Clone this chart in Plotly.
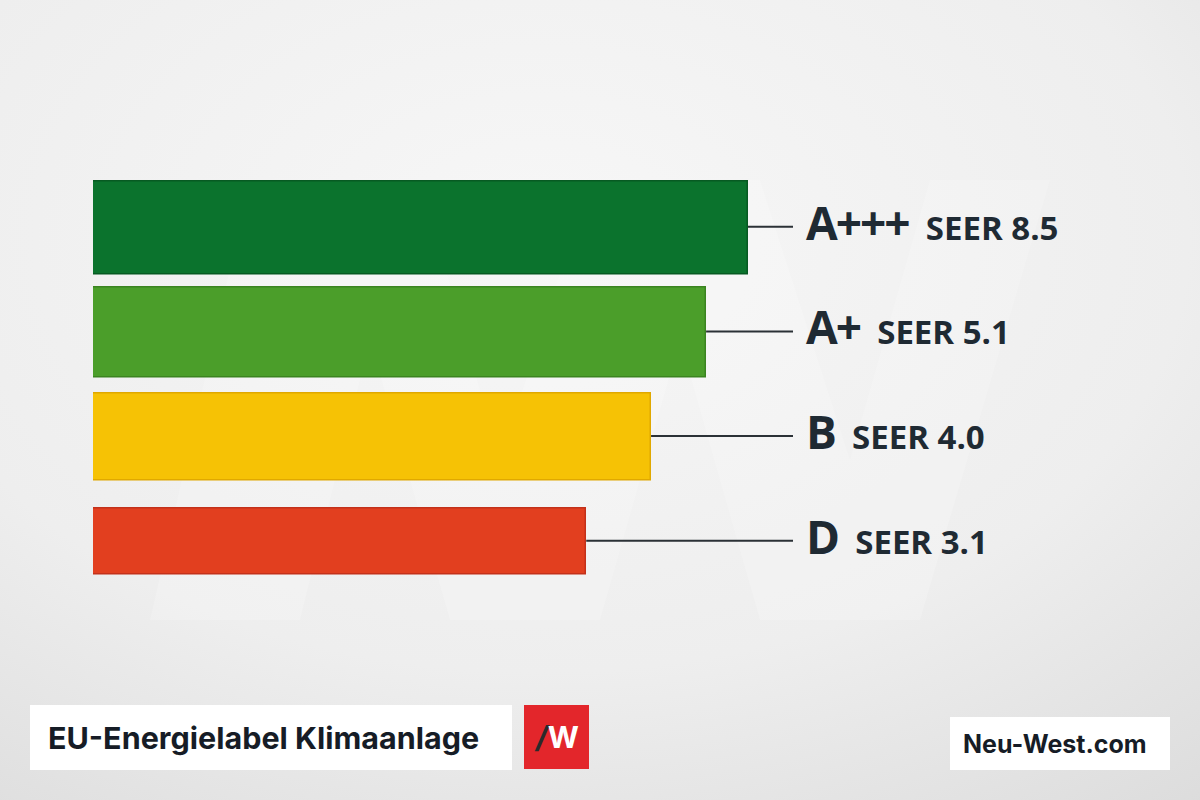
import plotly.graph_objects as go
import base64

# ---- data ----
classes = ["A+++", "A+", "B", "D"]
seer = ["8.5", "5.1", "4.0", "3.1"]
bar_length = [100, 93.6, 85.2, 75.3]      # relative bar length (%)
bar_colors = ["#0b732d", "#4b9e2a", "#f6c205", "#e23f1f"]
edge_colors = ["#075a22", "#3b8420", "#e0a800", "#c3311a"]
bar_thickness = [0.886, 0.857, 0.838, 0.63]
title_text = "EU-Energielabel Klimaanlage"
site_text = "Neu-West.com"

W, H = 1200, 800
x0_px = 93
unit_px = 6.55
line_end_px = 793
label_px = 804

def px_to_x(px):
    return (px - x0_px) / unit_px

xmax = px_to_x(W)
ypos = list(range(len(classes)))

fig = go.Figure()

# connector lines
for i, v in enumerate(bar_length):
    fig.add_trace(go.Scatter(
        x=[v, px_to_x(line_end_px)], y=[ypos[i] - 0.01, ypos[i] - 0.01],
        mode="lines", line=dict(color="#2b3136", width=2),
        hoverinfo="skip", showlegend=False))

fig.add_trace(go.Bar(
    x=bar_length, y=ypos, orientation="h", width=bar_thickness,
    marker=dict(color=bar_colors, line=dict(color=edge_colors, width=1.5)),
    showlegend=False, hoverinfo="skip"))

for i, (c, s) in enumerate(zip(classes, seer)):
    fig.add_annotation(
        x=px_to_x(label_px), y=ypos[i], xref="x", yref="y",
        xanchor="left", yanchor="middle", showarrow=False, yshift=6,
        text=(f"<b><span style='font-size:46px;letter-spacing:-2px'>{c}</span></b>"
              f"\u00a0\u00a0<b>SEER {s}</b>"),
        font=dict(family="Open Sans", size=33, color="#1f2a33"))

# background gradient
svg = f"""<svg xmlns='http://www.w3.org/2000/svg' width='{W}' height='{H}'>
<defs><radialGradient id='g' cx='0.45' cy='0.3' r='0.9'>
<stop offset='0' stop-color='#f7f7f7'/><stop offset='0.6' stop-color='#eeeeee'/>
<stop offset='1' stop-color='#dcdcdc'/></radialGradient></defs>
<rect width='{W}' height='{H}' fill='url(#g)'/>
<path d='M150 620 L250 180 L420 180 L500 460 L590 180 L760 180 L850 460 L930 180 L1050 180 L920 620 L760 620 L680 340 L600 620 L450 620 L370 340 L300 620 Z' fill='#ffffff' fill-opacity='0.18'/>
</svg>"""
uri = "data:image/svg+xml;base64," + base64.b64encode(svg.encode()).decode()
fig.add_layout_image(dict(source=uri, xref="paper", yref="paper", x=0, y=1,
                          sizex=1, sizey=1, xanchor="left", yanchor="top",
                          sizing="stretch", layer="below"))

# footer boxes
def box(x0, x1, y0, y1, color):
    fig.add_shape(type="rect", xref="paper", yref="paper",
                  x0=x0 / W, x1=x1 / W, y0=1 - y1 / H, y1=1 - y0 / H,
                  fillcolor=color, line=dict(width=0), layer="above")

box(30, 512, 705, 770, "#ffffff")
box(524, 589, 705, 769, "#e3262b")
box(950, 1170, 717, 770, "#ffffff")

fig.add_annotation(x=46 / W, y=1 - 737.5 / H, xref="paper", yref="paper",
                   xanchor="left", yanchor="middle", showarrow=False,
                   text=f"<b>{title_text}</b>",
                   font=dict(family="Inter", size=30.5, color="#161c26"))
fig.add_annotation(x=556.5 / W, y=1 - 737 / H, xref="paper", yref="paper",
                   xanchor="center", yanchor="middle", showarrow=False,
                   text="<b><i><span style='color:#2a2a2a'>/</span></i>W</b>",
                   font=dict(family="Inter", size=30, color="#ffffff"))
fig.add_annotation(x=1055 / W, y=1 - 743.5 / H, xref="paper", yref="paper",
                   xanchor="center", yanchor="middle", showarrow=False,
                   text=f"<b>{site_text}</b>",
                   font=dict(family="Inter", size=25, color="#161c26"))

ytop_px, ybot_px = 228 - 52.5, 228 + 3 * 104.5 + 52.5
fig.update_layout(
    width=W, height=H, margin=dict(l=0, r=0, t=0, b=0),
    paper_bgcolor="#eeeeee", plot_bgcolor="rgba(0,0,0,0)",
    xaxis=dict(domain=[x0_px / W, 1], range=[0, xmax], visible=False, fixedrange=True),
    yaxis=dict(domain=[1 - ybot_px / H, 1 - ytop_px / H], range=[3.5, -0.5],
               visible=False, fixedrange=True),
    bargap=0,
)

fig.write_html("out.html")
